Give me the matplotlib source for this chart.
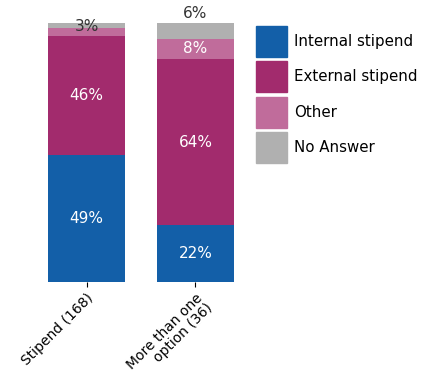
import numpy as np
import matplotlib
matplotlib.use("Agg")
import matplotlib.pyplot as plt
from matplotlib.patches import Patch

categories = ["Stipend (168)", "More than one\noption (36)"]
series = ["Internal stipend", "External stipend", "Other", "No Answer"]
internal = [49, 22]
external = [46, 64]
other = [3, 8]
no_answer = [2, 6]
colors = ["#135fa8", "#a22b6d", "#c06c9b", "#b0b0b0"]

fig = plt.figure(figsize=(4.25, 3.74), dpi=100)
ax = fig.add_axes([37.5 / 425, 92 / 374, 207 / 425, 259 / 374])

x = np.arange(len(categories))
values = [internal, external, other, no_answer]
bottom = np.zeros(len(categories))
for vals, col in zip(values, colors):
    ax.bar(x, vals, 0.7, bottom=bottom, color=col)
    bottom += np.array(vals)

# labels inside the bars
cum = np.zeros(len(categories))
for si, vals in enumerate(values):
    for i, v in enumerate(vals):
        mid = cum[i] + v / 2
        if si < 2 or (si == 2 and i == 1):
            ax.text(x[i], mid, "%d%%" % v, ha="center", va="center",
                    color="white", fontsize=11)
    cum += np.array(vals)

# small segments labelled in dark text
ax.text(x[0], 98.5, "%d%%" % other[0], ha="center", va="center",
        color="#333333", fontsize=11, clip_on=False)
ax.text(x[1], 103.5, "%d%%" % no_answer[1], ha="center", va="center",
        color="#333333", fontsize=11, clip_on=False)

ax.set_xlim(-0.45, 1.45)
ax.set_ylim(0, 100)
ax.set_xticks(x)
ax.set_xticklabels(categories, rotation=45, ha="right", rotation_mode="anchor",
                   fontsize=10, linespacing=1.0)
ax.tick_params(axis="x", length=3.5, pad=3)
ax.set_yticks([])
for s in ax.spines.values():
    s.set_visible(False)

handles = [Patch(color=c, label=s) for c, s in zip(colors, series)]
fig.legend(handles=handles, loc="upper left", bbox_to_anchor=(250 / 425, 1 - 20 / 374),
           frameon=False, fontsize=10.8, handlelength=2.05, handleheight=2.8,
           labelspacing=0.3, handletextpad=0.5, borderaxespad=0)

fig.savefig("out.png", dpi=100)
